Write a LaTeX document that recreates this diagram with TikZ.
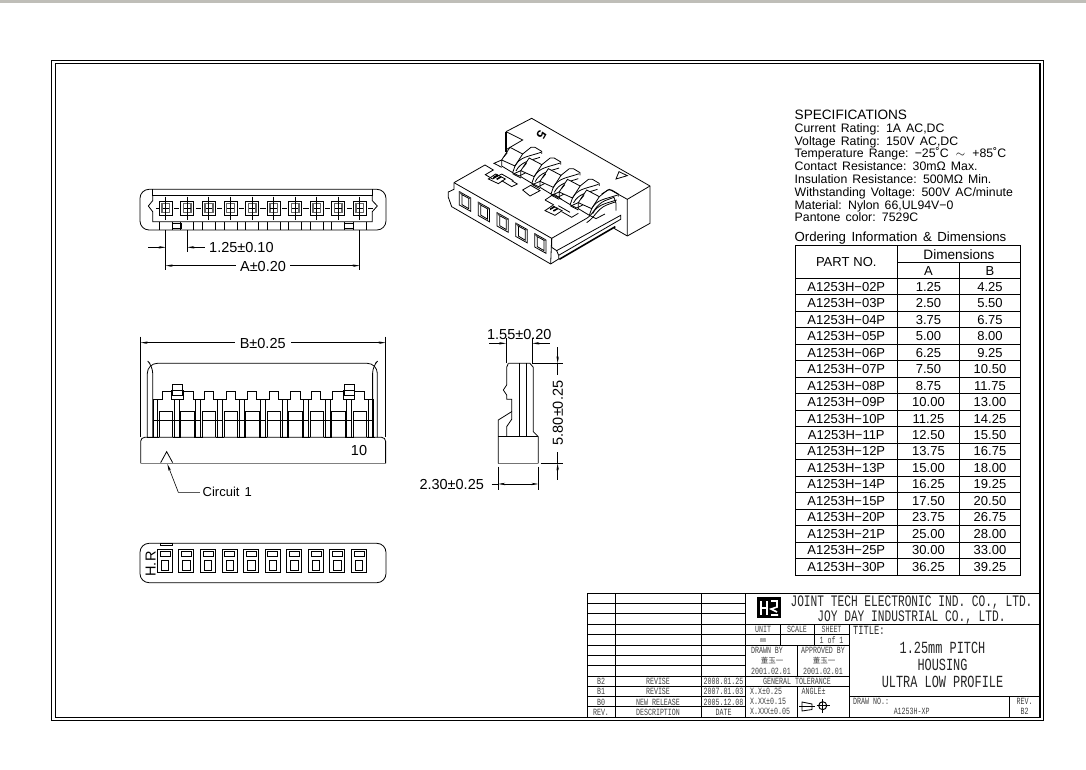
\documentclass[tikz,border=0pt]{standalone}
\usepackage{fontspec}
\usetikzlibrary{arrows.meta}
\setmainfont[WordSpace=1.5]{Liberation Sans}
\newfontfamily\blockfont[FakeStretch=0.7]{Liberation Mono}
\newfontfamily\cjkfont{Noto Sans CJK SC}
\tikzset{
	edge/.style={line width=0.8pt, line join=miter},
	thick edge/.style={line width=1.6pt},
	dimline/.style={line width=0.6pt},
	dimtip/.style={{Stealth[length=7pt,width=2.4pt]}-},
	dimtext/.style={inner sep=0pt, font=\fontsize{14.5}{16}\selectfont, text depth=0pt, text height=10.4pt},
	spec/.style={anchor=west, inner sep=0pt, font=\fontsize{12.3}{14}\selectfont, text depth=0pt, text height=9pt},
	cellnote/.style={inner sep=0pt, font=\fontsize{13}{15}\selectfont, text depth=0pt, text height=9.3pt},
	blocknote/.style={inner sep=0pt, text=black!75, font=\blockfont\fontsize{9.5}{10}\selectfont, text depth=0pt, text height=6.5pt},
	blockhead/.style={inner sep=0pt, text=black!85, font=\blockfont\fontsize{16}{18}\selectfont, text depth=0pt, text height=10.5pt},
	blocktitle/.style={inner sep=0pt, text=black!85, font=\blockfont\fontsize{17}{19}\selectfont, text depth=0pt, text height=11pt}
}
\begin{document}
\begin{tikzpicture}[x=1pt, y=-1pt]
	\useasboundingbox (0,0) rectangle (1086,770);
	\fill[white] (0,0) rectangle (1086,770);

	% Window strip and frame:
	\fill[black!30!yellow!8!gray!60] (0,0) rectangle (1086,2.6);
	\draw[edge, line width=1pt] (51.8,61) rectangle (1043.2,720);
	\draw[edge, line width=1.1pt] (55.3,63.8) rectangle (1040,717.2);

	% Top view:
	\begin{scope}[shift={(130,170)}, x=0.3333pt, y=-0.3333pt]
		\draw[edge, rounded corners=9pt] (30,58) rectangle (768,180);
		\draw[edge] (68,58) -- (68,75) -- (727,75) -- (727,58);
		\draw[edge] (68,75) -- (68,92) -- (55,108) -- (68,125) -- (68,155) -- (727,155) -- (727,125) -- (742,108) -- (727,92) -- (727,75);
		\foreach \i in {0,...,9} {
			\begin{scope}[shift={(64.7*\i,0)}]
				\draw[edge] (88,155) -- (88,180) (127,155) -- (127,180);
				\draw[edge] (88,95) rectangle (127,135);
				\draw[line width=1.5pt, black!60] (96,101) rectangle (119,128);
				\draw[dimline] (107,80) -- (107,150) (98,115) -- (117,115);
				\draw[dimline] (132,115) -- (148,115);
			\end{scope}
		}
		\draw[dimline] (78,115) -- (86,115);
		\draw[edge] (127,161) rectangle (153,176) (643,161) rectangle (670,176);
		\draw[dimline] (107,180) -- (107,300) (172,180) -- (172,247) (689,180) -- (689,300);
		\draw[dimline, dimtip] (107,232) -- (55,232);
		\draw[dimline, dimtip] (172,232) -- (225,232);
		\draw[dimline, dimtip] (107,287) -- (318,287);
		\draw[dimline, dimtip] (689,287) -- (480,287);
	\end{scope}
	\node[dimtext, anchor=west] (pitchnote) at (209,247.5) {1.25±0.10};
	\node[dimtext] (anote) at (263,266) {A±0.20};

	% Side view:
	\begin{scope}[shift={(130,330)}, x=0.3333pt, y=-0.3333pt]
		\draw[edge, rounded corners=4pt] (32,400) -- (32,322) -- (767,322) -- (767,400);
		\draw[edge, black!50, line width=1.2pt] (32,400) -- (767,400);
		\draw[edge, rounded corners=10pt] (52,322) -- (52,100) -- (742,100) -- (742,322);
		\draw[edge, rounded corners=7pt] (68,322) -- (68,108) -- (60,100);
		\draw[edge, rounded corners=7pt] (728,322) -- (728,108) -- (736,100);
		\draw[edge] (68,208) -- (97,208) -- (97,183) -- (190,183) -- (190,208)
			-- (222,208) -- (222,183) -- (250,183) -- (250,208)
			-- (288,208) -- (288,183) -- (315,183) -- (315,208)
			-- (353,208) -- (353,183) -- (380,183) -- (380,208)
			-- (418,208) -- (418,183) -- (445,183) -- (445,208)
			-- (480,208) -- (480,183) -- (510,183) -- (510,208)
			-- (545,208) -- (545,183) -- (572,183) -- (572,208)
			-- (608,208) -- (608,183) -- (702,183) -- (702,208) -- (728,208);
		\foreach \i in {0,...,9} {
			\begin{scope}[shift={(64.7*\i,0)}]
				\draw[edge] (88,322) -- (88,245) -- (128,245) -- (128,322);
				\draw[thick edge] (88,245) -- (128,245);
				\draw[edge] (88,270) -- (128,270);
				\draw[edge] (133,208) -- (133,322) (148,208) -- (148,322);
				\draw[edge] (128,270) -- (148,270) (128,322) -- (153,322);
			\end{scope}
		}
		\draw[edge] (70,208) -- (70,322) (82,208) -- (82,322) (68,270) -- (88,270) (52,322) -- (88,322);
		\foreach \cx in {142,657} {
			\draw[edge, fill=white] (\cx-17,180) rectangle (\cx+17,208);
			\draw[edge, fill=white] (\cx-15,162) rectangle (\cx+15,195);
			\draw[edge] (\cx-15,180) -- (\cx+15,180);
		}
		\draw[edge] (92,398) -- (110,365) -- (128,398);
		\draw[dimline, {Stealth[length=7pt,width=2.4pt]}-] (112,402) -- (145,487) -- (210,487);
		\draw[dimline] (32,20) -- (32,322) (767,20) -- (767,322);
		\draw[dimline, dimtip] (32,38) -- (315,38);
		\draw[dimline, dimtip] (767,38) -- (482,38);
	\end{scope}
	\node[dimtext] (bnote) at (262.7,343) {B±0.25};
	\node[cellnote, font=\fontsize{14.5}{16}\selectfont] (tenmark) at (359,451) {10};
	\node[cellnote, anchor=west] (circuitnote) at (202.5,492) {Circuit\hspace{5pt}1};

	% End view:
	\begin{scope}[shift={(410,320)}, x=0.3333pt, y=-0.3333pt]
		\draw[edge] (295,130) -- (360,130) -- (370,142) -- (370,335) -- (385,350) -- (385,430);
		\draw[edge, black!55, line width=1.2pt] (385,430) -- (265,430);
		\draw[edge] (265,430) -- (265,300) -- (305,275) -- (305,238) -- (290,238) -- (290,225) -- (280,210) -- (290,195) -- (290,142) -- (295,130);
		\draw[edge] (265,350) -- (385,350);
		\draw[edge] (290,350) -- (290,320) -- (305,298) -- (305,275);
		\draw[edge] (328,130) -- (328,350) (348,130) -- (348,350);
		\draw[dimline] (288,55) -- (288,130) (367,55) -- (367,130);
		\draw[dimline, dimtip] (288,70) -- (238,70);
		\draw[dimline, dimtip] (367,70) -- (420,70);
		\draw[dimline] (367,130) -- (458,130) (392,430) -- (458,430);
		\draw[dimline, dimtip] (443,130) -- (443,80);
		\draw[dimline] (443,130) -- (443,165);
		\draw[dimline, dimtip] (443,430) -- (443,480);
		\draw[dimline] (443,430) -- (443,395);
		\draw[dimline] (265,440) -- (265,510) (385,440) -- (385,510);
		\draw[dimline, dimtip] (265,492) -- (325,492);
		\draw[dimline, dimtip] (385,492) -- (325,492);
		\draw[dimline] (245,492) -- (265,492);
	\end{scope}
	\node[dimtext] (widthnote) at (519.3,334) {1.55±0.20};
	\node[dimtext, rotate=90] (heightnote) at (557.7,413) {5.80±0.25};
	\node[dimtext] (depthnote) at (451.7,484.5) {2.30±0.25};

	% Bottom view:
	\begin{scope}[shift={(130,535)}, x=0.3333pt, y=-0.3333pt]
		\draw[edge, rounded corners=9pt] (30,25) rectangle (768,143);
		\draw[edge] (90,25) rectangle (127,30);
		\foreach \i in {0,...,9} {
			\begin{scope}[shift={(64.7*\i,0)}]
				\draw[edge] (82,42) rectangle (127,112);
				\draw[edge] (90,50) rectangle (120,63);
				\draw[edge] (96,63) -- (114,63);
				\draw[edge] (82,42) -- (127,42);
				\draw[edge] (94,75) rectangle (116,105);
			\end{scope}
		}
	\end{scope}
	\node[dimtext, rotate=90] (hrmark) at (150.5,564) {H.R};

	% Isometric view:
	\begin{scope}[shift={(430,110)}, x=0.3333pt, y=-0.3333pt]
		% housing
		\draw[edge] (228,65) -- (305,25) -- (660,228) -- (660,340) -- (592,378) -- (552,355);
		\draw[edge] (660,228) -- (592,268) -- (592,378);
		\draw[edge] (592,268) -- (538,238) -- (515,252);
		\draw[edge] (228,65) -- (278,90) -- (230,118);
		\draw[edge, line width=1.1pt] (228,65) -- (228,125);
		\draw[edge] (558,207) -- (567,185) -- (592,197) -- cycle;
		\draw[edge] (72,218) -- (165,165) -- (190,180) -- (166,194) -- (188,207) -- (215,192);
		\draw[edge] (72,218) -- (365,385) -- (365,412);
		\draw[edge] (72,218) -- (72,238) -- (55,246) -- (55,262) -- (65,290) -- (362,462) -- (386,447);
		\draw[edge] (365,385) -- (470,325) .. controls (492,312) and (495,285) .. (525,272) -- (552,262) -- (558,280) -- (558,302);
		\draw[edge] (365,412) -- (380,422) -- (572,316) -- (572,328) -- (386,436) -- (386,447);
		\draw[edge] (380,422) -- (386,436);
		\draw[edge] (365,385) -- (362,462);
		\draw[thick edge] (388,448) -- (556,350);
		\draw[edge] (470,338) .. controls (495,322) and (500,298) .. (530,285) -- (558,275);
		% clips and slots
		\foreach \cx/\cy in {0/0,170/95} {
			\begin{scope}[shift={(\cx,\cy)}]
				\draw[edge] (175,207) -- (197,192) -- (226,207) -- (205,221) -- cycle;
				\draw[thick edge] (190,203) -- (204,195) (200,208) -- (214,200);
				\draw[edge] (215,192) -- (250,212);
			\end{scope}
		}
		\draw[edge] (278,240) -- (302,226) -- (330,242) -- (300,258) -- cycle;
		\draw[edge] (345,270) -- (372,252) -- (395,268);
		\draw[edge] (345,270) -- (372,285);
		\draw[edge] (215,212) -- (245,230) -- (262,222) -- (245,212);
		\draw[edge] (395,305) -- (425,322) -- (445,310);
		% latches
		\foreach \i in {0,...,4} {
			\begin{scope}[shift={(57.5*\i,32*\i)}]
				\draw[edge, fill=white] (215,150) -- (240,112) -- (278,132) -- (255,168) -- cycle;
				\draw[edge] (215,150) -- (215,168) -- (248,188) -- (255,168);
				\draw[edge] (278,132) -- (303,112) -- (315,112) -- (335,124) -- (335,132);
				\draw[edge] (255,168) .. controls (270,140) and (295,140) .. (333,127);
				\draw[edge] (258,183) .. controls (272,155) and (300,152) .. (330,142);
				\draw[edge] (215,150) -- (192,160) -- (215,172);
				\draw[edge] (248,188) -- (268,198) -- (295,184);
				\draw[edge] (232,128) -- (222,140);
			\end{scope}
		}
		% contact windows
		\foreach \i in {0,...,4} {
			\begin{scope}[shift={(56.5*\i,31.5*\i)}]
				\draw[edge] (88,245) -- (122,264) -- (122,304) -- (88,285) -- cycle;
				\draw[edge] (96,254) -- (116,265) -- (116,296) -- (96,284) -- cycle;
				\draw[line width=1.3pt, black!70] (88,245) -- (96,254) (122,264) -- (116,265);
			\end{scope}
		}
	\end{scope}
	\node[inner sep=0pt, rotate=-120, font=\bfseries\fontsize{13}{15}\selectfont] (isomark) at (541.5,135) {5};

	% Specifications:
	\node[spec, font=\fontsize{13.6}{15}\selectfont] (spechead) at (794.5,115.3) {SPECIFICATIONS};
	\node[spec] (specline1) at (794.5,127.8) {Current Rating: 1A AC,DC};
	\node[spec] (specline2) at (794.5,140.7) {Voltage Rating: 150V AC,DC};
	\node[spec] (specline3) at (794.5,153.3) {Temperature Range: −25˚C \,$\sim$\, +85˚C};
	\node[spec] (specline4) at (794.5,165.8) {Contact Resistance: 30mΩ Max.};
	\node[spec] (specline5) at (794.5,178.7) {Insulation Resistance: 500MΩ Min.};
	\node[spec] (specline6) at (794.5,192) {Withstanding Voltage: 500V AC/minute};
	\node[spec] (specline7) at (794.5,205) {Material: Nylon 66,UL94V−0};
	\node[spec] (specline8) at (794.5,217.5) {Pantone color: 7529C};
	\node[spec, font=\fontsize{13.2}{15}\selectfont] (orderhead) at (794.5,236.8) {Ordering Information \& Dimensions};

	% Ordering table:
	\draw[edge] (795,245) rectangle (1020.7,575);
	\draw[edge] (897.7,245) -- (897.7,575) (959.3,262.3) -- (959.3,575) (897.7,262.3) -- (1020.7,262.3);
	\foreach \r in {0,...,17} {
		\draw[edge] (795,{278.3+16.48*\r}) -- (1020.7,{278.3+16.48*\r});
	}
	\node[cellnote] (parthead) at (846.3,262) {PART\hspace{4pt}NO.};
	\node[cellnote, font=\fontsize{13.6}{15}\selectfont] (dimhead) at (959,254.5) {Dimensions};
	\node[cellnote] (ahead) at (928.5,270.5) {A};
	\node[cellnote] (bhead) at (990,270.5) {B};
	\foreach \pn/\a/\b [count=\r] in {02/1.25/4.25,03/2.50/5.50,04/3.75/6.75,05/5.00/8.00,06/6.25/9.25,07/7.50/10.50,08/8.75/11.75,09/10.00/13.00,10/11.25/14.25,11/12.50/15.50,12/13.75/16.75,13/15.00/18.00,14/16.25/19.25,15/17.50/20.50,20/23.75/26.75,21/25.00/28.00,25/30.00/33.00,30/36.25/39.25} {
		\node[cellnote] (part\r) at (846.3,{278.3+16.48*(\r-0.5)}) {A1253H−\pn P};
		\node[cellnote] (dima\r) at (928.5,{278.3+16.48*(\r-0.5)}) {\a};
		\node[cellnote] (dimb\r) at (990,{278.3+16.48*(\r-0.5)}) {\b};
	}

	% Title block grid:
	\draw[edge] (587.3,593.3) rectangle (1040,717.2);
	\draw[edge] (615,593.3) -- (615,717.2) (701.7,593.3) -- (701.7,717.2);
	\draw[edge] (745.7,593.3) -- (745.7,717.2) (849.3,624) -- (849.3,717.2);
	\foreach \ry in {603.3,613.3,624,634.7,645,655,665.7,676.7,686.7,696.7,706.7} {
		\draw[edge] (587.3,\ry) -- (745.7,\ry);
	}
	\draw[edge] (745.7,624) -- (1040,624);
	\draw[edge] (745.7,634.7) -- (849.3,634.7) (745.7,645) -- (849.3,645);
	\draw[edge] (745.7,676.7) -- (849.3,676.7) (745.7,686.7) -- (849.3,686.7);
	\draw[edge] (780,624) -- (780,645) (814,624) -- (814,645);
	\draw[edge] (797.3,645) -- (797.3,676.7) (797.3,686.7) -- (797.3,717.2);
	\draw[edge] (849.3,696.3) -- (1040,696.3) (1009.3,696.3) -- (1009.3,717.2);

	% Title block logo:
	\fill[black] (757,597) rectangle (780.5,618);
	\draw[white, line width=2pt] (761,601) -- (761,615) (767,601) -- (767,615) (761,608) -- (767,608);
	\draw[white, line width=1.6pt] (771,601) -- (777,601) -- (777,607) -- (771,609) -- (777,612) (771,615) -- (778,615);

	% Title block revision rows:
	\foreach \rv/\what/\when [count=\r] in {B2/REVISE/2008.01.25,B1/REVISE/2007.01.03,B0/NEW RELEASE/2005.12.08,REV./DESCRIPTION/DATE} {
		\node[blocknote] (revmark\r) at (601,{671.6+10.05*\r}) {\rv};
		\node[blocknote] (revtext\r) at (658,{671.6+10.05*\r}) {\what};
		\node[blocknote] (revdate\r) at (723.5,{671.6+10.05*\r}) {\when};
	}

	% Title block text:
	\node[blockhead] (company1) at (911.5,601.5) {JOINT TECH ELECTRONIC IND. CO., LTD.};
	\node[blockhead] (company2) at (911.5,616) {JOY DAY INDUSTRIAL CO., LTD.};
	\node[blocknote] (unithead) at (763,629.5) {UNIT};
	\node[blocknote] (scalehead) at (797,629.5) {SCALE};
	\node[blocknote] (sheethead) at (831.5,629.5) {SHEET};
	\node[blocknote, font=\blockfont\fontsize{7}{8}\selectfont, text height=4pt] (unitvalue) at (763,640) {mm};
	\node[blocknote] (sheetvalue) at (831.5,640) {1 of 1};
	\node[blocknote] (drawnhead) at (767,650) {DRAWN BY};
	\node[blocknote] (approvedhead) at (823,650) {APPROVED BY};
	\node[blocknote, font=\cjkfont\fontsize{7.5}{8}\selectfont] (drawnname) at (772,660.7) {董玉一};
	\node[blocknote, font=\cjkfont\fontsize{7.5}{8}\selectfont] (approvedname) at (824,660.7) {董玉一};
	\node[blocknote] (drawndate) at (771,671) {2001.02.01};
	\node[blocknote] (approveddate) at (823,671) {2001.02.01};
	\node[blocknote] (tolhead) at (797,681.7) {GENERAL TOLERANCE};
	\node[blocknote, anchor=west] (tolone) at (750,691.7) {X.X±0.25};
	\node[blocknote, anchor=west] (toltwo) at (750,701.7) {X.XX±0.15};
	\node[blocknote, anchor=west] (tolthree) at (750,711.3) {X.XXX±0.05};
	\node[blocknote, anchor=west] (anglehead) at (801.5,691.7) {ANGLE±};
	\draw[edge] (802,702) -- (812,704) -- (812,709.5) -- (802,711) -- cycle;
	\draw[edge] (799,706.3) -- (815,706.3);
	\draw[edge, line width=1pt] (822.7,705.7) circle[radius=4];
	\draw[edge] (816.5,705.7) -- (829.5,705.7) (822.7,699) -- (822.7,713);
	\node[blockhead, font=\blockfont\fontsize{12.5}{14}\selectfont, text height=8pt, anchor=west] (titlehead) at (853,630) {TITLE:};
	\node[blocktitle] (titleone) at (942.5,648.3) {1.25mm PITCH};
	\node[blocktitle] (titletwo) at (942.5,665.3) {HOUSING};
	\node[blocktitle] (titlethree) at (942.5,682.3) {ULTRA LOW PROFILE};
	\node[blocknote, anchor=west] (drawnohead) at (853,701.7) {DRAW NO.:};
	\node[blocknote] (drawnovalue) at (911.7,711) {A1253H-XP};
	\node[blocknote] (revhead) at (1024.7,701.7) {REV.};
	\node[blocknote] (revvalue) at (1024.7,711) {B2};
\end{tikzpicture}
\end{document}
